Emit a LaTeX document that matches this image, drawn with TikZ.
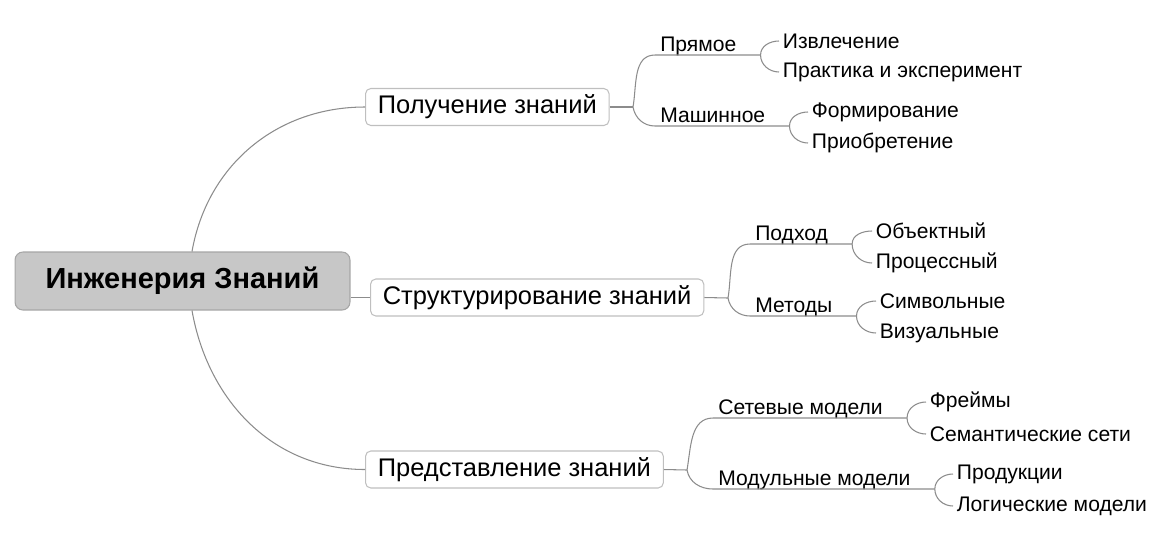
\documentclass[tikz,border=0pt]{standalone}
\usepackage{fontspec}
\setmainfont{Liberation Sans}

\begin{document}
\begin{tikzpicture}
[x=0.02cm,y=0.02cm,%
  link/.style={draw=black!45,line width=0.6pt},%
  rootnode/.style={rectangle,rounded corners=4.5pt,draw=black!35,fill=black!22,line width=0.6pt,%
    minimum width=6.7cm,minimum height=1.16cm,font=\fontsize{16.5}{20}\selectfont\bfseries},%
  topic/.style={rectangle,rounded corners=3pt,draw=black!25,line width=0.6pt,anchor=west,%
    inner xsep=7pt,minimum height=0.74cm,font=\fontsize{14.5}{17}\selectfont},%
  subtopic/.style={anchor=south west,inner xsep=2.8pt,inner ysep=0.5pt,text depth=1.5pt,%
    font=\fontsize{12}{14}\selectfont},%
  leaf/.style={anchor=west,inner xsep=2pt,font=\fontsize{12}{14}\selectfont}]
\useasboundingbox (0,0) rectangle (1165,-535);

\node[rootnode] (root) at (182.5,-281) {Инженерия Знаний};

\node[topic] (get) at (365,-107) {Получение знаний};
\node[topic] (struct) at (370,-297.5) {Структурирование знаний};
\node[topic] (repr) at (365,-469.5) {Представление знаний};

\coordinate (gsplit) at (633,-107);
\coordinate (ssplit) at (728,-298);
\coordinate (rsplit) at (687,-470);

\node[subtopic] (direct) at (655,-55) {Прямое};
\node[subtopic] (machine) at (655,-126) {Машинное};
\node[subtopic] (approach) at (750,-244) {Подход};
\node[subtopic] (methods) at (750,-316) {Методы};
\node[subtopic] (netmod) at (713,-418) {Сетевые модели};
\node[subtopic] (modmod) at (713,-489) {Модульные модели};

\node[leaf] (extract) at (779,-41) {Извлечение};
\node[leaf] (practice) at (779,-72) {Практика и эксперимент};
\node[leaf] (forming) at (808,-112) {Формирование};
\node[leaf] (acquire) at (808,-143) {Приобретение};
\node[leaf] (objectn) at (872,-231) {Объектный};
\node[leaf] (processn) at (872,-263) {Процессный};
\node[leaf] (symbolic) at (876,-301) {Символьные};
\node[leaf] (visual) at (876,-333) {Визуальные};
\node[leaf] (frames) at (926,-402) {Фреймы};
\node[leaf] (semnet) at (926,-434) {Семантические сети};
\node[leaf] (products) at (953,-474) {Продукции};
\node[leaf] (logicmod) at (953,-506) {Логические модели};

\draw[link] ([xshift=0.19cm]root.north) to[out=80,in=180] (get.west);
\draw[link] (struct.west -| root.east) -- (struct.west);
\draw[link] ([xshift=0.19cm]root.south) to[out=-80,in=180] (repr.west);

\draw[link] (get.east) -- (gsplit);
\draw[link] (struct.east) -- (ssplit);
\draw[link] (repr.east) -- (rsplit);

\draw[link] (gsplit) to[out=80,in=180] (direct.south west) -- ([xshift=0.38cm]direct.south east) coordinate (directend);
\draw[link] (gsplit) to[out=-80,in=180] (machine.south west) -- ([xshift=0.38cm]machine.south east) coordinate (machineend);
\draw[link] (ssplit) to[out=80,in=180] (approach.south west) -- ([xshift=0.38cm]approach.south east) coordinate (approachend);
\draw[link] (ssplit) to[out=-80,in=180] (methods.south west) -- ([xshift=0.38cm]methods.south east) coordinate (methodsend);
\draw[link] (rsplit) to[out=80,in=180] (netmod.south west) -- ([xshift=0.38cm]netmod.south east) coordinate (netmodend);
\draw[link] (rsplit) to[out=-80,in=180] (modmod.south west) -- ([xshift=0.38cm]modmod.south east) coordinate (modmodend);

\draw[link] (directend) to[out=90,in=180] (extract.west);
\draw[link] (directend) to[out=-90,in=180] (practice.west);
\draw[link] (machineend) to[out=90,in=180] (forming.west);
\draw[link] (machineend) to[out=-90,in=180] (acquire.west);
\draw[link] (approachend) to[out=90,in=180] (objectn.west);
\draw[link] (approachend) to[out=-90,in=180] (processn.west);
\draw[link] (methodsend) to[out=90,in=180] (symbolic.west);
\draw[link] (methodsend) to[out=-90,in=180] (visual.west);
\draw[link] (netmodend) to[out=90,in=180] (frames.west);
\draw[link] (netmodend) to[out=-90,in=180] (semnet.west);
\draw[link] (modmodend) to[out=90,in=180] (products.west);
\draw[link] (modmodend) to[out=-90,in=180] (logicmod.west);
\end{tikzpicture}
\end{document}
